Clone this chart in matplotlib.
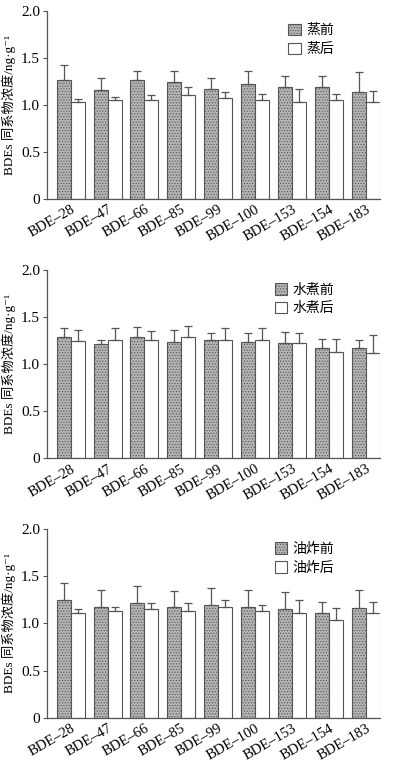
import matplotlib
matplotlib.use("Agg")
import matplotlib.pyplot as plt
import numpy as np

plt.rcParams['font.family'] = ['Liberation Serif', 'Noto Sans CJK SC', 'DejaVu Sans']
plt.rcParams['font.size'] = 11
plt.rcParams['hatch.linewidth'] = 0.5

congeners = ["BDE–28", "BDE–47", "BDE–66", "BDE–85", "BDE–99",
             "BDE–100", "BDE–153", "BDE–154", "BDE–183"]

# steaming
steam_before = [1.26, 1.16, 1.26, 1.24, 1.17, 1.22, 1.19, 1.19, 1.14]
steam_before_err = [0.16, 0.12, 0.10, 0.12, 0.12, 0.14, 0.12, 0.12, 0.21]
steam_after = [1.03, 1.05, 1.05, 1.10, 1.07, 1.05, 1.03, 1.05, 1.03]
steam_after_err = [0.03, 0.03, 0.05, 0.09, 0.07, 0.07, 0.14, 0.07, 0.12]

# boiling
boil_before = [1.29, 1.21, 1.29, 1.24, 1.26, 1.24, 1.22, 1.17, 1.17]
boil_before_err = [0.09, 0.05, 0.11, 0.12, 0.07, 0.09, 0.12, 0.10, 0.09]
boil_after = [1.25, 1.26, 1.26, 1.29, 1.26, 1.26, 1.22, 1.13, 1.12]
boil_after_err = [0.11, 0.12, 0.09, 0.12, 0.12, 0.12, 0.11, 0.14, 0.19]

# deep frying
fry_before = [1.25, 1.18, 1.22, 1.18, 1.20, 1.18, 1.15, 1.11, 1.16]
fry_before_err = [0.18, 0.18, 0.18, 0.16, 0.18, 0.18, 0.18, 0.12, 0.20]
fry_after = [1.11, 1.13, 1.15, 1.13, 1.18, 1.13, 1.11, 1.04, 1.11]
fry_after_err = [0.04, 0.04, 0.07, 0.09, 0.07, 0.07, 0.14, 0.12, 0.12]

panels = [
    (steam_before, steam_before_err, steam_after, steam_after_err, "蒸前", "蒸后"),
    (boil_before, boil_before_err, boil_after, boil_after_err, "水煮前", "水煮后"),
    (fry_before, fry_before_err, fry_after, fry_after_err, "油炸前", "油炸后"),
]

fig = plt.figure(figsize=(3.95, 7.65), dpi=100)
bottoms = [0.740, 0.401, 0.062]
x = np.arange(len(congeners))
w = 0.38
edge = '#555555'

for (b, be, a, ae, lab1, lab2), bot in zip(panels, bottoms):
    ax = fig.add_axes([0.119, bot, 0.843, 0.246])
    zeros = np.zeros(len(x))
    ax.bar(x - w / 2, b, w, color='#b4b4b4', edgecolor=edge, linewidth=0.8,
           hatch='......', label=lab1,
           yerr=[zeros, be], error_kw=dict(ecolor=edge, elinewidth=0.9, capsize=3, capthick=0.9))
    ax.bar(x + w / 2, a, w, color='white', edgecolor=edge, linewidth=0.8,
           label=lab2,
           yerr=[zeros, ae], error_kw=dict(ecolor=edge, elinewidth=0.9, capsize=3, capthick=0.9))
    ax.set_ylim(0, 2.0)
    ax.set_xlim(-0.64, len(x) - 1 + w)
    ax.set_yticks([0, 0.5, 1.0, 1.5, 2.0])
    ax.set_yticklabels(["0", "0.5", "1.0", "1.5", "2.0"])
    ax.set_xticks(x)
    ax.set_xticklabels(congeners, rotation=30, ha='right', rotation_mode='anchor')
    ax.tick_params(axis='x', length=0, pad=3, labelsize=10.5)
    ax.tick_params(axis='y', length=3, width=0.8, color=edge, pad=2, labelsize=11)
    for s in ['top', 'right']:
        ax.spines[s].set_visible(False)
    for s in ['left', 'bottom']:
        ax.spines[s].set_color(edge)
        ax.spines[s].set_linewidth(0.9)
    ax.set_ylabel("BDEs 同系物浓度/ng·g⁻¹", fontsize=9.5, labelpad=4)
    ax.legend(loc='upper right', bbox_to_anchor=(0.90, 1.0), frameon=False,
              handlelength=0.9, handleheight=0.9, handletextpad=0.4,
              labelspacing=0.35, prop={'family': ['Noto Sans CJK SC'], 'size': 10})

fig.savefig("out.png", dpi=100)
